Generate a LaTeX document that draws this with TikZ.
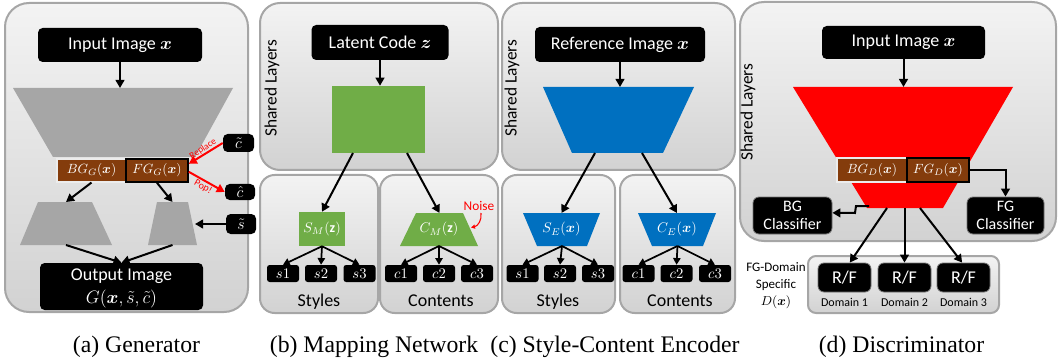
\RequirePackage{fix-cm}
\documentclass[tikz,border=0pt]{standalone}
\usepackage{amsmath}
\usepackage{fontspec}
\setmainfont{Carlito}
\newfontfamily\capfont{Liberation Serif}
\usetikzlibrary{arrows.meta,calc}
\definecolor{pbord}{HTML}{A6A6A6}
\definecolor{ptop}{HTML}{F3F3F3}
\definecolor{pbot}{HTML}{D2D2D2}
\definecolor{trg}{HTML}{A6A6A6}
\definecolor{brn}{HTML}{843C0C}
\definecolor{grn}{HTML}{70AD47}
\definecolor{blu}{HTML}{0070C0}
\definecolor{rd}{HTML}{FF0000}
\tikzset{
 wh/.style 2 args={minimum width=#1*0.75pt,minimum height=#2*0.75pt,inner sep=0pt},
 blk/.style={fill=black,rounded corners=3.5pt,text=white,inner sep=0pt},
 blk2/.style={blk,draw=black!55,line width=0.6pt,rounded corners=4.5pt},
 panel/.style={draw=pbord,line width=1.5pt,top color=ptop,bottom color=pbot},
 arr/.style={-{Triangle[length=6pt,width=6.5pt]},line width=1.5pt},
 sarr/.style={-{Triangle[length=5pt,width=5.5pt]},line width=1.3pt},
 rarr/.style={-{Triangle[length=6pt,width=6.5pt]},line width=1.5pt,draw=rd},
 big/.style={font=\fontsize{13.5}{15}\selectfont},
 shl/.style={font=\fontsize{13}{15}\selectfont,rotate=90},
 brbox/.style={fill=brn,text=white,font=\fontsize{10}{12}\selectfont},
 mth/.style={text=white,font=\fontsize{10.5}{12}\selectfont},
 sbox/.style={blk,wh={32}{17},rounded corners=2pt,font=\fontsize{11}{12}\selectfont},
 lab/.style={font=\fontsize{13.5}{15}\selectfont},
 capn/.style={font=\capfont\fontsize{17.8}{20}\selectfont,anchor=base}
}
\begin{document}
\begin{tikzpicture}[x=0.75pt,y=-0.75pt]
\useasboundingbox (0,0) rectangle (1058,360);

%================ (a) Generator =================
\path[panel,rounded corners=18pt] (5,3) rectangle (248,312);
\node[blk,wh={164}{34},big] (ainp) at (120,45) {Input Image $\boldsymbol{x}$};
\fill[trg] (13,88) -- (233,88) -- (195,157) -- (53,157) -- cycle;
\coordinate (atop) at (120,88);
\draw[arr] (ainp.south) -- (atop);
\node[brbox,draw=white!85!gray,line width=0.8pt,wh={69}{23}] (abg) at (91.5,170.5) {$BG_G(\boldsymbol{x})$};
\node[brbox,draw=black,line width=1.2pt,wh={62}{23}] (afg) at (157,170.5) {$FG_G(\boldsymbol{x})$};
\fill[trg] (38,202) -- (92,202) -- (112,245) -- (20,245) -- cycle;
\fill[trg] (157,202) -- (188,202) -- (197,245) -- (148,245) -- cycle;
\coordinate (altop) at (66,202);
\coordinate (albot) at (66,245);
\coordinate (artop) at (172.5,202);
\coordinate (arbot) at (172.5,245);
\coordinate (arright) at (195,224);
\draw[arr] (abg.south) -- (altop);
\draw[arr] (afg.south) -- (artop);
\node[blk,wh={163}{47},big] (aout) at (121.5,286.5) {};
\node[big,text=white,inner sep=0pt] (aoutt) at (121.5,276) {Output Image};
\node[big,text=white,inner sep=0pt] (aoutm) at (121.5,299) {$G(\boldsymbol{x},\tilde{s},\tilde{c})$};
\draw[arr] (albot) -- (aout.north);
\draw[arr] (arbot) -- (aout.north);
\node[blk,wh={31}{18},font=\fontsize{12}{13}\selectfont] (ctil) at (238.5,143) {$\tilde{c}$};
\node[blk,wh={30}{16},font=\fontsize{12}{13}\selectfont] (chat) at (240,192) {$\hat{c}$};
\node[blk,wh={30}{20},font=\fontsize{12}{13}\selectfont] (stil) at (241,224) {$\tilde{s}$};
\draw[rarr] (ctil.west) -- ([yshift=5pt]afg.east);
\draw[rarr] ([yshift=-1pt]afg.east) -- (chat.west);
\node[text=rd,rotate=33,font=\fontsize{7}{8}\selectfont,inner sep=0.5pt] (replace) at (203,149) {Replace};
\node[text=rd,rotate=-29,font=\fontsize{7.5}{9}\selectfont,inner sep=1pt] (pop) at (203,187) {Pop!};
\draw[arr] (stil.west) -- (arright);

%================ (b) Mapping Network =================
\path[panel,rounded corners=15pt] (260,3) rectangle (498,170);
\node[shl] at (272,88) {Shared Layers};
\node[blk,wh={137}{35},big] (blat) at (380,42.5) {Latent Code $\boldsymbol{z}$};
\node[fill=grn,wh={93}{67}] (bgr) at (378.5,119.5) {};
\draw[arr] (blat.south) -- (blat.south |- bgr.north);
\path[panel,rounded corners=11pt] (260,175) rectangle (378,313);
\path[panel,rounded corners=11pt] (380,175) rectangle (498,313);
\node[fill=grn,wh={46}{34},mth] (bsm) at (322,229) {$S_M(\mathbf{z})$};
\fill[grn] (416,213) -- (463,213) -- (478,246) -- (400,246) -- cycle;
\node[mth] (bcm) at (439,229.5) {$C_M(\mathbf{z})$};
\coordinate (bcmtop) at (439.5,213);
\coordinate (bcmbot) at (439,246);
\coordinate (bgrL) at (353,153);
\coordinate (bgrR) at (407,153);
\draw[arr] (bgrL) -- (bsm.north);
\draw[arr] (bgrR) -- (bcmtop);
\node[text=rd,font=\fontsize{10}{12}\selectfont] (noise) at (479,206) {Noise};
\coordinate (nstart) at (481,213);
\coordinate (nend) at (471,227.5);
\draw[rd,line width=0.8pt,-{Triangle[length=3pt,width=3pt]}] (nstart) .. controls (482,220) and (478,226) .. (nend);
\node[sbox] (bs1) at (283,273.5) {$s1$};
\node[sbox] (bs2) at (321,273.5) {$s2$};
\node[sbox] (bs3) at (359.5,273.5) {$s3$};
\node[sbox] (bc1) at (401,273.5) {$c1$};
\node[sbox] (bc2) at (439,273.5) {$c2$};
\node[sbox] (bc3) at (477,273.5) {$c3$};
\foreach \t in {bs1,bs2,bs3} \draw[sarr] (bsm.south) -- (\t.north);
\foreach \t in {bc1,bc2,bc3} \draw[sarr] (bcmbot) -- (\t.north);
\node[lab] at (319,302) {Styles};
\node[lab] at (441,301) {Contents};

%================ (c) Style-Content Encoder =================
\path[panel,rounded corners=15pt] (502,3) rectangle (735,170);
\node[shl] at (512,88) {Shared Layers};
\node[blk,wh={170}{35},big] (cref) at (620,44.5) {Reference Image $\boldsymbol{x}$};
\fill[blu] (543,87) -- (694,87) -- (663,153) -- (572,153) -- cycle;
\coordinate (ctop) at (620,87);
\draw[arr] (cref.south) -- (ctop);
\path[panel,rounded corners=11pt] (502,175) rectangle (615,313);
\path[panel,rounded corners=11pt] (620,175) rectangle (735,313);
\fill[blu] (523,213) -- (600,213) -- (587,246) -- (537,246) -- cycle;
\fill[blu] (638,213) -- (716,213) -- (703,246) -- (652,246) -- cycle;
\node[mth] (cse) at (561.5,229.5) {$S_E(\boldsymbol{x})$};
\node[mth] (cce) at (677,229.5) {$C_E(\boldsymbol{x})$};
\coordinate (csetop) at (561.5,213);
\coordinate (csebot) at (562,246);
\coordinate (ccetop) at (677,213);
\coordinate (ccebot) at (677.5,246);
\coordinate (ctrL) at (595,153);
\coordinate (ctrR) at (642,153);
\draw[arr] (ctrL) -- (csetop);
\draw[arr] (ctrR) -- (ccetop);
\node[sbox] (cs1) at (522.5,273.5) {$s1$};
\node[sbox] (cs2) at (560,273.5) {$s2$};
\node[sbox] (cs3) at (598,273.5) {$s3$};
\node[sbox] (cc1) at (638.5,273.5) {$c1$};
\node[sbox] (cc2) at (676.5,273.5) {$c2$};
\node[sbox] (cc3) at (715,273.5) {$c3$};
\foreach \t in {cs1,cs2,cs3} \draw[sarr] (csebot) -- (\t.north);
\foreach \t in {cc1,cc2,cc3} \draw[sarr] (ccebot) -- (\t.north);
\node[lab] at (558,302) {Styles};
\node[lab] at (680,301) {Contents};

%================ (d) Discriminator =================
\path[panel,rounded corners=18pt] (740,2) rectangle (1056,241);
\node[shl] at (748,112) {Shared Layers};
\node[blk,wh={163}{33},big] (dinp) at (903.5,42.5) {Input Image $\boldsymbol{x}$};
\fill[rd] (793,87) -- (1013,87) -- (943,208) -- (867,208) -- cycle;
\coordinate (dtop) at (903.5,87);
\draw[arr] (dinp.south) -- (dtop);
\node[brbox,draw=white!85!gray,line width=0.8pt,wh={70}{24}] (dbg) at (872,170) {$BG_D(\boldsymbol{x})$};
\node[brbox,draw=black,line width=1.2pt,wh={62}{24}] (dfg) at (938,170) {$FG_D(\boldsymbol{x})$};
\node[blk2,wh={79}{37},align=center,font=\fontsize{12}{13.5}\selectfont] (dbgc) at (792.5,215.5) {BG\\Classifier};
\node[blk2,wh={77}{37},align=center,font=\fontsize{12}{13.5}\selectfont] (dfgc) at (1005.5,215.5) {FG\\Classifier};
\draw[arr] (dfg.east) -| (dfgc.north);
\coordinate (dbgs) at (869,206);
\coordinate (dbgk1) at (856,206);
\coordinate (dbgk2) at (855,213);
\draw[arr] (dbgs) -- (dbgk1) -- (dbgk2) -- ([yshift=2pt]dbgc.east);
\path[panel,rounded corners=6pt] (808,256) rectangle (999,313);
\node[blk2,wh={53}{29},big] (dr1) at (844.5,277.5) {R/F};
\node[blk2,wh={53}{29},big] (dr2) at (904.5,277.5) {R/F};
\node[blk2,wh={53}{29},big] (dr3) at (963.5,277.5) {R/F};
\coordinate (db1) at (887,208);
\coordinate (db2) at (904.5,208);
\coordinate (db3) at (920,208);
\draw[arr] (db1) -- ([xshift=4pt]dr1.north);
\draw[arr] (db2) -- (dr2.north);
\draw[arr] (db3) -- ([xshift=-1pt]dr3.north);
\node[font=\fontsize{9}{10}\selectfont] at (844.5,302) {Domain 1};
\node[font=\fontsize{9}{10}\selectfont] at (904.5,302) {Domain 2};
\node[font=\fontsize{9}{10}\selectfont] at (963.5,302) {Domain 3};
\node[align=center,font=\fontsize{9.75}{13}\selectfont] at (776,285.5) {FG-Domain\\Specific\\$D(\boldsymbol{x})$};

%================ captions =================
\node[capn] at (136.5,352) {(a) Generator};
\node[capn] at (374,352) {(b) Mapping Network};
\node[capn] at (615,352) {(c) Style-Content Encoder};
\node[capn] at (901.5,352) {(d) Discriminator};
\end{tikzpicture}
\end{document}
